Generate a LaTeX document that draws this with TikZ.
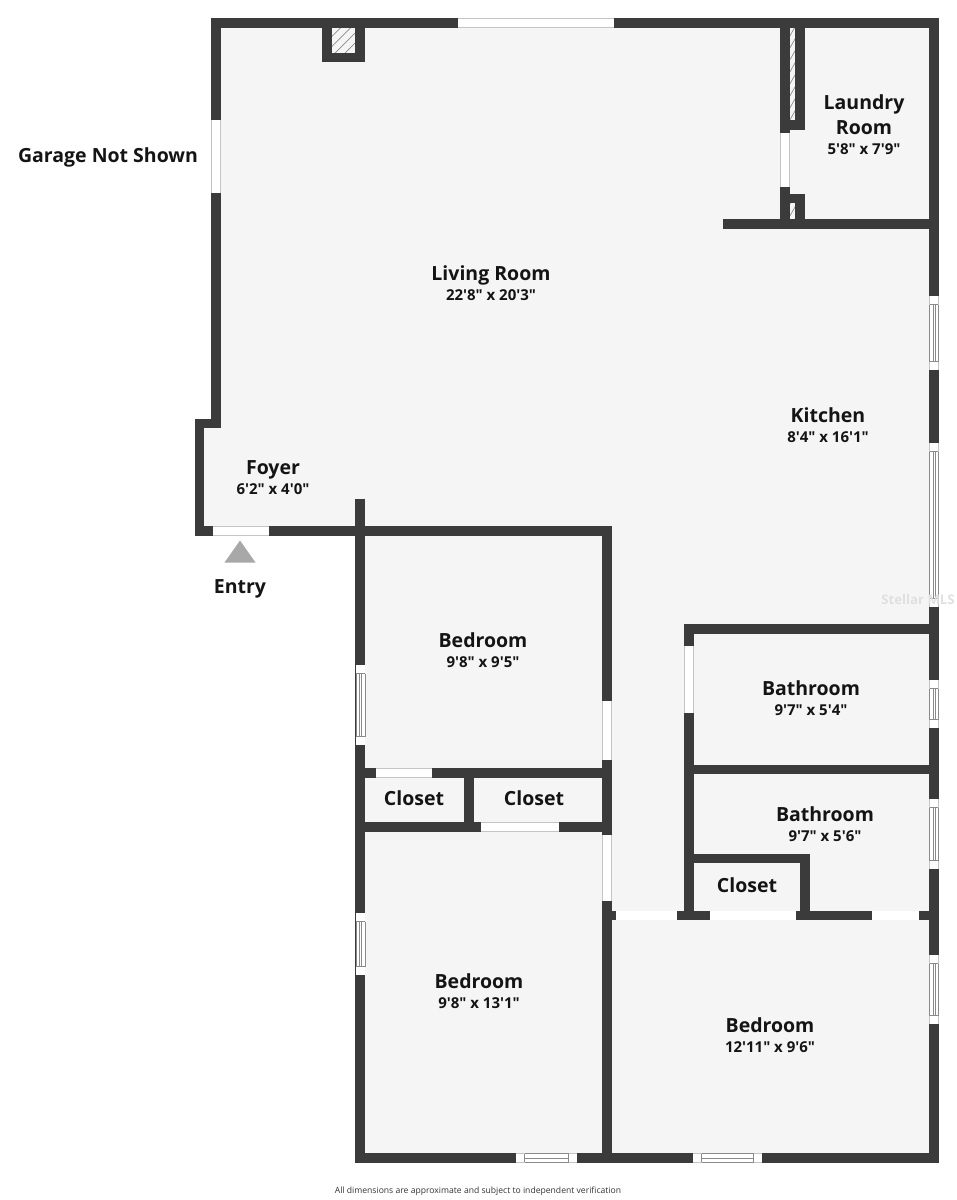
\documentclass[tikz,border=0pt]{standalone}
\usepackage{fontspec}
\usetikzlibrary{patterns.meta}
\newfontfamily\planfont{Open Sans}
\definecolor{wallgray}{HTML}{3B3B3B}
\definecolor{floorgray}{HTML}{F5F5F5}
\definecolor{edgegray}{HTML}{C4C4C4}
\definecolor{linegray}{HTML}{8A8A8A}
\definecolor{arrowgray}{HTML}{A8A8A8}
\definecolor{inkblack}{HTML}{141414}
\tikzset{
    wall/.style={draw=wallgray, line width=9.2pt, line join=miter, line cap=butt},
    opening/.style={draw=edgegray, line width=0.6pt, double=white, double distance=8.4pt},
    pane/.style={draw=linegray, line width=0.7pt},
    fluehatch/.style={pattern={Lines[angle=60,distance=6pt,line width=0.7pt]}, pattern color=linegray},
    roomlabel/.style={font=\planfont\bfseries\fontsize{19.5}{22}\selectfont, text=inkblack, inner sep=0pt, text height=14pt, text depth=4pt, yshift=-2pt},
    dimlabel/.style={font=\planfont\bfseries\fontsize{15}{18}\selectfont, text=inkblack, inner sep=0pt, text height=11pt, text depth=3pt, yshift=-1.5pt}
}
\newcommand{\vwindow}[3]{
    \path [opening] (#1,#2) -- (#1,#3);
    \draw [pane] (#1-4.4,{#2+8.5}) -- (#1+4.4,{#2+8.5});
    \draw [pane] (#1-4.4,{#3-8.5}) -- (#1+4.4,{#3-8.5});
    \draw [pane] (#1-4.4,{#2+8.5}) -- (#1-4.4,{#3-8.5});
    \draw [pane] (#1+4.4,{#2+8.5}) -- (#1+4.4,{#3-8.5});
    \draw [pane] (#1-0.9,{#2+8.5}) -- (#1-0.9,{#3-8.5});
    \draw [pane] (#1+0.9,{#2+8.5}) -- (#1+0.9,{#3-8.5});
}
\newcommand{\hwindow}[3]{
    \path [opening] (#1,#3) -- (#2,#3);
    \draw [pane] ({#1+8.5},#3-4.4) -- ({#1+8.5},#3+4.4);
    \draw [pane] ({#2-8.5},#3-4.4) -- ({#2-8.5},#3+4.4);
    \draw [pane] ({#1+8.5},#3-4.4) -- ({#2-8.5},#3-4.4);
    \draw [pane] ({#1+8.5},#3+4.4) -- ({#2-8.5},#3+4.4);
    \draw [pane] ({#1+8.5},#3) -- ({#2-8.5},#3);
}
\begin{document}
\begin{tikzpicture}[x=1pt, y=-1pt]
    \useasboundingbox (0,0) rectangle (957,1200);

    \fill [floorgray] (216,23) -- (934,23) -- (934,1158) -- (360,1158) -- (360,531) -- (199.5,531) -- (199.5,423.5) -- (216,423.5) -- cycle;

    \path [pattern={Lines[angle=45,distance=7pt,line width=0.7pt]}, pattern color=linegray] (331,27) rectangle (356,53);
    \path [fluehatch] (789,27) rectangle (796,121);
    \path [fluehatch] (789,203) rectangle (796,219);

    \path [wall] (216,23) -- (934,23) -- (934,1158) -- (360,1158) -- (360,531) -- (199.5,531) -- (199.5,423.5) -- (216,423.5) -- cycle;
    \path [wall] (327,23) -- (327,57.5) -- (360,57.5) -- (360,23);
    \path [wall] (785,23) -- (785,133);
    \path [wall] (800,23) -- (800,125) -- (785,125);
    \path [wall] (785,187) -- (785,224);
    \path [wall] (785,198.5) -- (800,198.5) -- (800,224);
    \path [wall] (723,224) -- (934,224);
    \path [wall] (360,498.5) -- (360,531);
    \path [wall] (360,531) -- (607,531) -- (607,1158);
    \path [wall] (360,773) -- (607,773);
    \path [wall] (360,827) -- (607,827);
    \path [wall] (469,773) -- (469,827);
    \path [wall] (934,629) -- (689,629) -- (689,915.5);
    \path [wall] (689,769.5) -- (934,769.5);
    \path [wall] (689,858.5) -- (805,858.5) -- (805,915.5);
    \path [wall] (607,915.5) -- (934,915.5);

    \path [opening] (458,23) -- (614,23);
    \path [opening] (216,120) -- (216,193);
    \path [opening] (785,133) -- (785,187);
    \path [opening] (213,531) -- (269,531);
    \path [opening] (376,773) -- (432,773);
    \path [opening] (481,827) -- (559,827);
    \path [opening] (607,701) -- (607,760);
    \path [opening] (607,835) -- (607,901);
    \path [opening] (689,646) -- (689,713);
    \path [opening] (616,915.5) -- (677,915.5);
    \path [opening] (710,915.5) -- (796,915.5);
    \path [opening] (872,915.5) -- (919,915.5);

    \vwindow{360.5}{665}{745}
    \vwindow{360.5}{913}{975}
    \vwindow{934}{296}{370}
    \vwindow{934}{443}{607}
    \vwindow{934}{680}{728}
    \vwindow{934}{799}{869}
    \vwindow{934}{955}{1024}
    \hwindow{516}{577}{1158}
    \hwindow{693}{762}{1158}

    \fill [arrowgray] (240,540.5) -- (255.5,562.5) -- (224.5,562.5) -- cycle;

    \begin{scope}[every node/.style={roomlabel}]
        \node (garage) at (108,155) {Garage Not Shown};
        \node (living) at (491,273) {Living Room};
        \node (kitchen) at (828,415) {Kitchen};
        \node (laundry) at (864,102) {Laundry};
        \node (laundryb) at (864,127) {Room};
        \node (foyer) at (273,467) {Foyer};
        \node (entry) at (240,586) {Entry};
        \node (bed1) at (483,640) {Bedroom};
        \node (closet1) at (414,798) {Closet};
        \node (closet2) at (534,798) {Closet};
        \node (bed2) at (479,981) {Bedroom};
        \node (bed3) at (770,1025) {Bedroom};
        \node (bath1) at (811,688) {Bathroom};
        \node (bath2) at (825,814) {Bathroom};
        \node (closet3) at (747,885) {Closet};
    \end{scope}
    \begin{scope}[every node/.style={dimlabel}]
        \node (livingdim) at (491,295) {22'8" x 20'3"};
        \node (kitchendim) at (828,437) {8'4" x 16'1"};
        \node (laundrydim) at (864,149) {5'8" x 7'9"};
        \node (foyerdim) at (273,489) {6'2" x 4'0"};
        \node (bed1dim) at (483,662) {9'8" x 9'5"};
        \node (bed2dim) at (479,1003) {9'8" x 13'1"};
        \node (bed3dim) at (770,1047) {12'11" x 9'6"};
        \node (bath1dim) at (811,710) {9'7" x 5'4"};
        \node (bath2dim) at (825,836) {9'7" x 5'6"};
    \end{scope}
    \node (mls) [font=\planfont\bfseries\fontsize{13.2}{16}\selectfont, text=black!12, inner sep=0pt] at (918,600) {Stellar MLS};
    \node (note) [font=\planfont\fontsize{8.6}{11}\selectfont, text=black!80, inner sep=0pt] at (478,1191) {All dimensions are approximate and subject to independent verification};
\end{tikzpicture}
\end{document}
